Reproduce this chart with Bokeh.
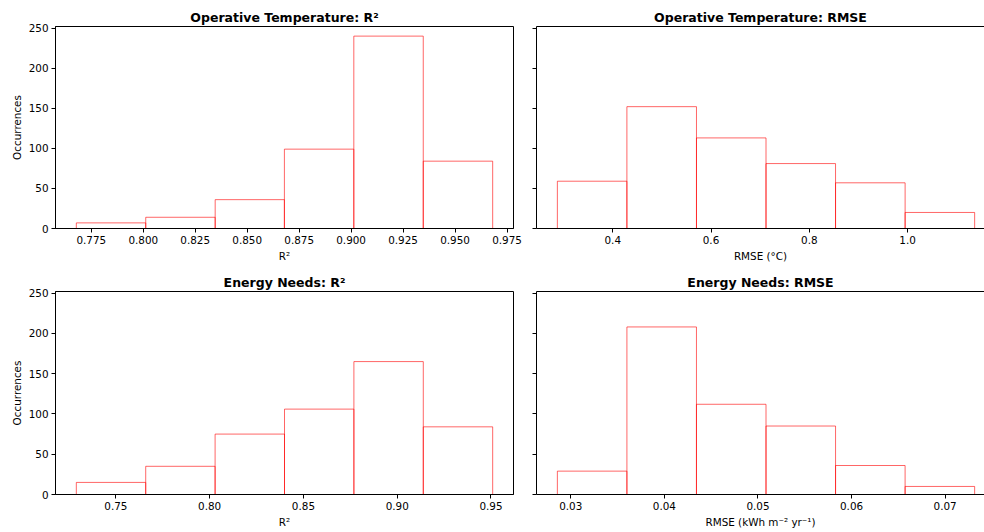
from bokeh.plotting import figure
from bokeh.layouts import column, row
from bokeh.models import (Range1d, FixedTicker, NumeralTickFormatter, LinearAxis,
                          CustomJSTickFormatter)
from bokeh.embed import file_html
from bokeh.resources import INLINE

# ---- data ----
ot_r2_edges = [0.7678, 0.8012, 0.8346, 0.8679, 0.9013, 0.9347, 0.9681]
ot_r2_counts = [7, 14, 36, 99, 240, 84]

ot_rmse_edges = [0.2873, 0.4288, 0.5704, 0.7119, 0.8534, 0.9950, 1.1365]
ot_rmse_counts = [59, 152, 113, 81, 57, 20]

en_r2_edges = [0.7289, 0.7659, 0.8029, 0.8399, 0.8769, 0.9139, 0.9509]
en_r2_counts = [15, 35, 75, 106, 165, 84]

en_rmse_edges = [0.02857, 0.03600, 0.04343, 0.05086, 0.05829, 0.06572, 0.07315]
en_rmse_counts = [29, 208, 112, 85, 36, 10]

ot_r2_ticks = [0.775, 0.800, 0.825, 0.850, 0.875, 0.900, 0.925, 0.950, 0.975]
ot_rmse_ticks = [0.4, 0.6, 0.8, 1.0]
en_r2_ticks = [0.75, 0.80, 0.85, 0.90, 0.95]
en_rmse_ticks = [0.03, 0.04, 0.05, 0.06, 0.07]
y_ticks = [0, 50, 100, 150, 200, 250]

titles = ["Operative Temperature: R\u00b2", "Operative Temperature: RMSE",
          "Energy Needs: R\u00b2", "Energy Needs: RMSE"]
xlabels = ["R\u00b2", "RMSE (\u00b0C)", "R\u00b2", "RMSE (kWh m\u207b\u00b2 yr\u207b\u00b9)"]

FONT = "DejaVu Sans"
EDGE = "#ff0000"

ymax = max(max(ot_r2_counts), max(ot_rmse_counts), max(en_r2_counts), max(en_rmse_counts)) * 1.05


def make(edges, counts, ticks, fmt, title, xlabel, left, top, visible_frac):
    lo, hi = edges[0], edges[-1]
    pad = (hi - lo) * 0.05
    x0, x1 = lo - pad, hi + pad
    x1 = x0 + (x1 - x0) * visible_frac
    if left:
        w, bl, br = 524, 55, 11
    else:
        w, bl, br = 460, 12, 0
    if top:
        h, bt, bb = 264, 26, 35
    else:
        h, bt, bb = 268, 27, 38
    p = figure(width=w, height=h, output_backend="svg", toolbar_location=None,
               x_range=Range1d(x0, x1), y_range=Range1d(0, ymax),
               min_border_left=bl, min_border_right=br, min_border_top=bt, min_border_bottom=bb,
               title=title)
    p.quad(left=edges[:-1], right=edges[1:], bottom=0, top=counts,
           fill_color=None, line_color=EDGE, line_alpha=0.6, line_width=1)
    p.xgrid.visible = False
    p.ygrid.visible = False
    p.background_fill_color = "white"
    p.border_fill_color = "white"
    p.title.align = "center"
    p.title.text_font = FONT
    p.title.text_font_size = "12.5px"
    p.title.text_font_style = "bold"
    p.title.text_color = "#000000"
    p.title.text_line_height = 0.8
    p.title.standoff = 3
    if not left:
        p.title.offset = 5

    xa = p.xaxis[0]
    xa.ticker = FixedTicker(ticks=ticks)
    xa.formatter = NumeralTickFormatter(format=fmt)
    xa.axis_label = xlabel
    ya = p.yaxis[0]
    ya.ticker = FixedTicker(ticks=y_ticks)
    if left:
        ya.axis_label = "Occurrences"
    for ax in (xa, ya):
        ax.major_label_text_font = FONT
        ax.major_label_text_font_size = "10.4px"
        ax.major_label_text_color = "#000000"
        ax.axis_label_text_font = FONT
        ax.axis_label_text_font_size = "10.4px"
        ax.axis_label_text_font_style = "normal"
        ax.axis_label_text_color = "#000000"
        ax.major_tick_in = 0
        ax.major_tick_out = 4
        ax.minor_tick_line_color = None
        ax.axis_line_color = "#000000"
        ax.major_tick_line_color = "#000000"
        ax.major_label_standoff = 3
        ax.axis_label_standoff = 3
    if left:
        p.outline_line_color = "#000000"
        p.outline_line_alpha = 1.0
    else:
        ya.formatter = CustomJSTickFormatter(code="return '';")
        ya.major_label_standoff = 0
        p.outline_line_color = None
        topax = LinearAxis(ticker=FixedTicker(ticks=[]), major_tick_out=0, major_tick_in=0,
                           major_label_standoff=0,
                           minor_tick_line_color=None, axis_line_color="#000000")
        p.add_layout(topax, "above")
    return p


p1 = make(ot_r2_edges, ot_r2_counts, ot_r2_ticks, "0.000", titles[0], xlabels[0], True, True, 1.0)
p2 = make(ot_rmse_edges, ot_rmse_counts, ot_rmse_ticks, "0.0", titles[1], xlabels[1], False, True, 0.976)
p3 = make(en_r2_edges, en_r2_counts, en_r2_ticks, "0.00", titles[2], xlabels[2], True, False, 1.0)
p4 = make(en_rmse_edges, en_rmse_counts, en_rmse_ticks, "0.00", titles[3], xlabels[3], False, False, 0.976)

layout = column(row(p1, p2), row(p3, p4))
open("out.html", "w").write(file_html(layout, INLINE))
